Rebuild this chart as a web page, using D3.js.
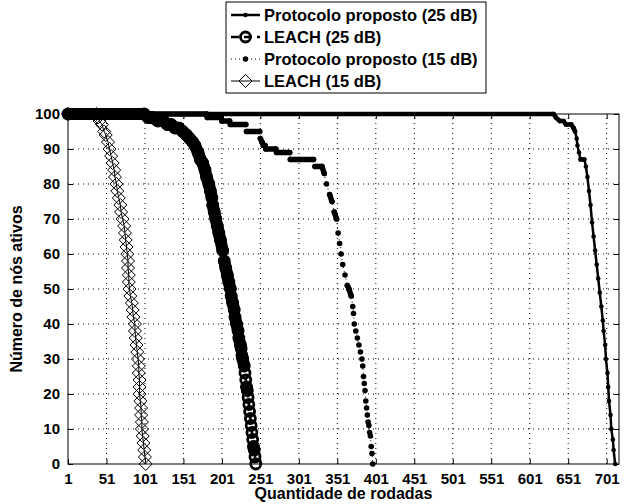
<!DOCTYPE html>
<html><head><meta charset="utf-8">
<script src="https://cdn.jsdelivr.net/npm/d3@7"></script>
<style>body{margin:0;background:#fff}svg{display:block}text{font-family:"Liberation Sans",Arial,Helvetica,sans-serif;font-weight:bold}</style>
</head><body>
<svg id="c" width="624" height="504"></svg>
<script>
// ---- data ----
const xTicks = [1,51,101,151,201,251,301,351,401,451,501,551,601,651,701];
const yTicks = [0,10,20,30,40,50,60,70,80,90,100];
const seriesNames = ["Protocolo proposto (25 dB)","LEACH (25 dB)","Protocolo proposto (15 dB)","LEACH (15 dB)"];

const p25Rounds = [1,632,635,640,645,648,655,658,660,662,663,665,667,672,674,676,678,680,682,684,686,688,690,692,694,696,697,699,700,702,703,704,706,707,709,710,712];
const p25Values = [100,100,99,98,98,97,97,96,95,93,91,89,87,87,85,82,78,74,69,65,61,57,53,49,45,41,38,34,30,26,22,18,14,10,7,4,0];

const l25Rounds = [1,100,105,110,118,125,130,135,140,145,150,155,159,163,166,170,173,176,179,181,184,186,188,189,191,193,195,197,199,202,204,206,208,210,212,213,215,217,218,220,222,223,225,226,227,228,230,231,232,233,234,235,236,237,238,239,240,241,242,243,244,245];
const l25Values = [100,100,99,99,98,98,97,97,96,96,95,94,93,92,91,89,87,86,84,82,80,78,76,74,72,70,68,66,64,61,58,56,54,52,50,48,46,44,42,40,38,36,34,33,31,30,28,26,24,22,21,19,17,15,13,11,9,7,5,4,2,0];

const p15Rounds = [1,181,182,200,201,211,212,232,233,250,251,253,255,257,258,271,272,289,290,320,322,331,334,337,341,344,347,350,352,354,356,358,361,364,366,369,371,372,373,375,377,379,381,383,384,385,386,387,388,389,390,391,392,393,394,395,396,397];
const p15Values = [100,100,99,99,98,98,97,97,95,95,93,92,91,91,90,90,89,89,87,87,85,85,83,80,77,75,72,70,66,63,60,57,54,51,50,48,45,43,40,38,36,34,32,30,28,25,23,21,18,16,14,12,11,9,8,5,3,0];

const l15Rounds = [1,38,40,42,45,48,50,53,55,57,59,61,62,64,65,67,69,70,72,74,75,76,77,78,79,79,80,80,81,82,84,85,86,88,88,89,90,91,92,93,93,94,94,94,95,96,96,97,97,98,99,100,101,102];
const l15Values = [100,100,99,98,97,95,94,92,90,88,86,84,82,80,78,76,74,72,70,68,66,64,62,60,58,56,54,52,50,48,46,44,42,40,38,36,34,32,30,28,26,24,22,20,18,16,14,12,10,8,6,4,2,0];

const xLabel = "Quantidade de rodadas";
const yLabel = "Número de nós ativos";

// ---- layout ----
const svg = d3.select("#c");
const L = 68, R = 619, T = 114, B = 464;
const x = d3.scaleLinear().domain([1,717]).range([L,R]);
const y = d3.scaleLinear().domain([0,100]).range([B,T]);
const FS = 15, LFS = 16.5;

// grid
const grid = svg.append("g");
grid.selectAll("line.gx").data(xTicks.slice(1)).join("line")
  .attr("x1",d=>x(d)).attr("x2",d=>x(d)).attr("y1",B).attr("y2",T)
  .attr("stroke","#000").attr("stroke-width",1).attr("stroke-dasharray","1,4");
grid.selectAll("line.gy").data(yTicks.slice(1,-1)).join("line")
  .attr("y1",d=>y(d)).attr("y2",d=>y(d)).attr("x1",L).attr("x2",R)
  .attr("stroke","#000").attr("stroke-width",1).attr("stroke-dasharray","1,4");

// axes
const tl = 5;
const xAxB = d3.axisBottom(x).tickValues(xTicks).tickSize(-tl).tickPadding(tl+4);
const xAxT = d3.axisTop(x).tickValues(xTicks).tickSize(-tl).tickFormat("");
const yAxL = d3.axisLeft(y).tickValues(yTicks).tickSize(-tl).tickPadding(tl+3);
const yAxR = d3.axisRight(y).tickValues(yTicks).tickSize(-tl).tickFormat("");
function styleAx(g){g.select(".domain").remove();g.selectAll("line").attr("stroke","#000");g.selectAll("text").attr("font-size",FS).attr("font-weight","bold").attr("fill","#000").attr("font-family",'"Liberation Sans",Arial,sans-serif');}
svg.append("g").attr("transform",`translate(0,${B})`).call(xAxB).call(styleAx);
svg.append("g").attr("transform",`translate(0,${T})`).call(xAxT).call(styleAx);
svg.append("g").attr("transform",`translate(${L},0)`).call(yAxL).call(styleAx);
svg.append("g").attr("transform",`translate(${R},0)`).call(yAxR).call(styleAx);
svg.append("rect").attr("x",L).attr("y",T).attr("width",R-L).attr("height",B-T)
  .attr("fill","none").attr("stroke","#000").attr("stroke-width",1);

// series
const zip = (rs,vs)=>rs.map((r,i)=>({r,v:vs[i]}));
const styles = [
  {data:zip(p25Rounds,p25Values), sw:2.5, dash:null, marker:"dot", ms:2.3, band:4.5, crowd:2.6},
  {data:zip(l25Rounds,l25Values), sw:2.5, dash:"8,5", marker:"circle", ms:5, band:12, crowd:4.2},
  {data:zip(p15Rounds,p15Values), sw:1, dash:"1,3", marker:"dot", ms:2.8, band:5.5, crowd:2.6},
  {data:zip(l15Rounds,l15Values), sw:1, dash:null, marker:"diamond", ms:6.5, band:12, crowd:0.9}
];
const line = d3.line().x(d=>x(d.r)).y(d=>y(d.v));
function drawMarker(g, type, cx, cy, ms){
  if(type==="dot") g.append("circle").attr("cx",cx).attr("cy",cy).attr("r",ms).attr("fill","#000");
  else if(type==="circle") g.append("circle").attr("cx",cx).attr("cy",cy).attr("r",ms).attr("fill","none").attr("stroke","#000").attr("stroke-width",2.8);
  else g.append("path").attr("d",`M${cx},${cy-ms}L${cx+ms},${cy}L${cx},${cy+ms}L${cx-ms},${cy}Z`).attr("fill","none").attr("stroke","#000").attr("stroke-width",1);
}
styles.forEach(s=>{
  const g = svg.append("g");
  // one marker per round in the original: where markers crowd they merge into a solid band
  for(let i=1;i<s.data.length;i++){
    const a=s.data[i-1], b=s.data[i];
    const dr = b.r-a.r;
    if(dr<=0) continue;
    const len = Math.hypot(x(b.r)-x(a.r), y(b.v)-y(a.v));
    if(len/dr < s.crowd){
      g.append("line").attr("x1",x(a.r)).attr("x2",x(b.r)).attr("y1",y(a.v)).attr("y2",y(b.v))
        .attr("stroke","#000").attr("stroke-width",s.band).attr("stroke-linecap","round");
    }
  }
  g.append("path").attr("d",line(s.data)).attr("fill","none").attr("stroke","#000")
    .attr("stroke-width",s.sw).attr("stroke-dasharray",s.dash);
  s.data.forEach(d=>drawMarker(g,s.marker,x(d.r),y(d.v),s.ms));
});

// labels
svg.append("text").attr("x",(L+R)/2).attr("y",499).attr("text-anchor","middle").attr("font-size",16).text(xLabel);
svg.append("text").attr("transform",`translate(22,${(T+B)/2}) rotate(-90)`).attr("text-anchor","middle").attr("font-size",16).text(yLabel);

// legend
const lg = svg.append("g");
const lx0 = 226, ly0 = 2, lw = 260, lh = 91;
lg.append("rect").attr("x",lx0).attr("y",ly0).attr("width",lw).attr("height",lh).attr("fill","#fff").attr("stroke","#000").attr("stroke-width",1);
seriesNames.forEach((n,i)=>{
  const s = styles[i];
  const yy = ly0 + 13 + i*22;
  lg.append("line").attr("x1",lx0+5).attr("x2",lx0+34).attr("y1",yy).attr("y2",yy)
    .attr("stroke","#000").attr("stroke-width",s.sw).attr("stroke-dasharray",s.dash);
  drawMarker(lg,s.marker,lx0+19.5,yy,s.ms);
  lg.append("text").attr("x",lx0+38).attr("y",yy+6).attr("font-size",LFS).text(n);
});
</script>
</body></html>
